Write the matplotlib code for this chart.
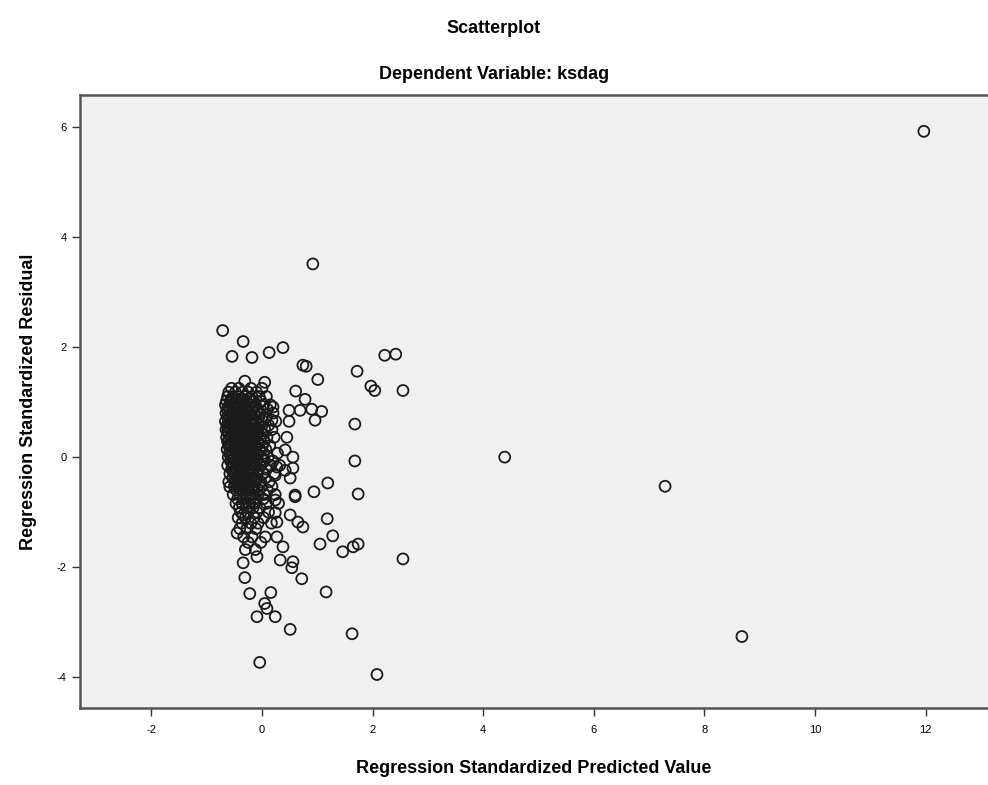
import numpy as np
import matplotlib
matplotlib.use("Agg")
import matplotlib.pyplot as plt

plt.rcParams['font.family'] = ['Liberation Sans', 'DejaVu Sans']
plt.rcParams['axes.unicode_minus'] = False

# puntos aislados (valor predicho, residuo)
outer_x = [11.97, 8.68, 7.29, 4.39, 0.92, -0.71, -0.34, -0.54, -0.18, 0.13, 0.38, 0.74, 0.80,
           1.01, -0.31, 0.05, 0.61, 0.78, 0.49, 0.69, 0.90, 1.08, 0.96, 0.49, 0.45, 2.22, 2.42,
           1.72, 1.97, 2.04, 2.55, 1.68, 1.68, 1.19, 0.94, 1.74, 1.18, 0.74, 1.28, 1.05, 1.46,
           1.65, 1.74, 2.55, 0.72, 1.16, 1.63, 2.08, 0.51, -0.04, -0.09, 0.24, 0.05, 0.09, 0.16,
           -0.22, -0.31, -0.34, -0.09, 0.33, 0.56, 0.54, 0.38, -0.45, -0.34, 0.27, 0.51, 0.60,
           -0.58]
outer_y = [5.92, -3.26, -0.53, 0.00, 3.51, 2.30, 2.10, 1.83, 1.81, 1.90, 1.99, 1.67, 1.65,
           1.41, 1.38, 1.36, 1.20, 1.05, 0.85, 0.85, 0.87, 0.83, 0.67, 0.65, 0.36, 1.85, 1.87,
           1.56, 1.29, 1.21, 1.21, 0.60, -0.07, -0.47, -0.63, -0.67, -1.12, -1.27, -1.43, -1.58,
           -1.72, -1.63, -1.58, -1.85, -2.21, -2.45, -3.21, -3.95, -3.13, -3.73, -2.90, -2.90,
           -2.66, -2.75, -2.46, -2.48, -2.19, -1.92, -1.81, -1.87, -1.90, -2.01, -1.63, -1.38,
           -1.05, -1.18, -1.05, -0.69, -0.54]

# borde derecho del grupo principal
fringe_x = [0.20, 0.18, 0.42, 0.56, 0.27, 0.42, 0.56, 0.24, 0.51, 0.60, 0.24, 0.24, 0.65, 0.27]
fringe_y = [0.91, 0.67, 0.13, 0.00, -0.18, -0.24, -0.20, -0.33, -0.38, -0.72, -0.78, -1.01,
            -1.18, -1.45]

# nucleo denso: residuo -> valores predichos en esa franja
core = {
    1.25: [-0.55, -0.42, -0.20, 0.00],
    1.18: [-0.60, -0.48, -0.35, -0.25, -0.10],
    1.10: [-0.62, -0.52, -0.44, -0.30, -0.18, -0.05, 0.08],
    1.02: [-0.64, -0.57, -0.47, -0.39, -0.28, -0.15, -0.02],
    0.95: [-0.66, -0.55, -0.50, -0.41, -0.33, -0.22, -0.12, 0.03, 0.15],
    0.87: [-0.63, -0.58, -0.49, -0.43, -0.36, -0.27, -0.19, -0.08, 0.10],
    0.80: [-0.65, -0.56, -0.51, -0.45, -0.38, -0.31, -0.24, -0.14, -0.03, 0.20],
    0.72: [-0.62, -0.59, -0.53, -0.46, -0.40, -0.34, -0.26, -0.17, -0.06, 0.07],
    0.65: [-0.66, -0.57, -0.50, -0.44, -0.37, -0.29, -0.21, -0.11, 0.02, 0.25],
    0.58: [-0.63, -0.55, -0.48, -0.42, -0.35, -0.28, -0.20, -0.13, -0.04, 0.12],
    0.50: [-0.65, -0.58, -0.52, -0.45, -0.39, -0.32, -0.23, -0.16, -0.07, 0.05, 0.18],
    0.43: [-0.61, -0.54, -0.47, -0.41, -0.34, -0.27, -0.19, -0.09, 0.00],
    0.36: [-0.64, -0.56, -0.50, -0.43, -0.37, -0.30, -0.22, -0.14, -0.02, 0.09, 0.22],
    0.28: [-0.62, -0.53, -0.46, -0.40, -0.33, -0.25, -0.17, -0.08, 0.04],
    0.21: [-0.60, -0.55, -0.48, -0.42, -0.35, -0.28, -0.20, -0.11, 0.01, 0.14],
    0.14: [-0.63, -0.51, -0.44, -0.38, -0.31, -0.23, -0.15, -0.05, 0.07],
    0.07: [-0.59, -0.53, -0.46, -0.40, -0.33, -0.26, -0.18, -0.09, 0.03, 0.28],
    0.00: [-0.61, -0.50, -0.43, -0.36, -0.29, -0.21, -0.12, -0.01, 0.11],
    -0.07: [-0.57, -0.48, -0.41, -0.34, -0.27, -0.19, -0.10, 0.05, 0.20],
    -0.15: [-0.62, -0.52, -0.45, -0.38, -0.30, -0.22, -0.13, -0.03, 0.16, 0.32],
    -0.22: [-0.55, -0.47, -0.40, -0.32, -0.24, -0.15, -0.06, 0.08],
    -0.30: [-0.58, -0.50, -0.42, -0.35, -0.26, -0.17, -0.08, 0.02, 0.22],
    -0.38: [-0.53, -0.44, -0.37, -0.28, -0.19, -0.10, 0.06],
    -0.45: [-0.60, -0.48, -0.39, -0.31, -0.21, -0.12, -0.02, 0.13],
    -0.53: [-0.50, -0.42, -0.33, -0.23, -0.14, 0.00, 0.18],
    -0.60: [-0.46, -0.36, -0.26, -0.16, -0.05, 0.10],
    -0.68: [-0.52, -0.40, -0.29, -0.18, -0.07, 0.04, 0.24],
    -0.76: [-0.44, -0.33, -0.21, -0.11, 0.02],
    -0.84: [-0.47, -0.36, -0.24, -0.13, 0.08, 0.30],
    -0.92: [-0.41, -0.28, -0.16, -0.04],
    -1.00: [-0.38, -0.25, -0.09, 0.12],
    -1.10: [-0.43, -0.30, -0.14, 0.03],
    -1.20: [-0.36, -0.20, -0.07, 0.17],
    -1.30: [-0.40, -0.27, -0.11],
    -1.45: [-0.33, -0.18, 0.06],
    -1.55: [-0.25, -0.02],
    -1.68: [-0.30, -0.12],
}

# zona mas cargada del nucleo
core_dense = {
    1.06: [-0.54, -0.36, -0.23],
    0.91: [-0.61, -0.46, -0.30, -0.16],
    0.76: [-0.60, -0.48, -0.35, -0.21],
    0.61: [-0.59, -0.46, -0.32, -0.17],
    0.47: [-0.62, -0.49, -0.37, -0.25, -0.12],
    0.32: [-0.59, -0.48, -0.35, -0.21],
    0.18: [-0.57, -0.46, -0.33, -0.18],
    0.03: [-0.56, -0.45, -0.31, -0.16],
    -0.11: [-0.53, -0.43, -0.29, -0.16],
    -0.26: [-0.52, -0.38, -0.21],
    -0.41: [-0.47, -0.33, -0.16],
    -0.57: [-0.40, -0.29, -0.19],
}

core_x = [x for y, xs in core.items() for x in xs] + [x for y, xs in core_dense.items() for x in xs]
core_y = [y for y, xs in core.items() for x in xs] + [y for y, xs in core_dense.items() for x in xs]

pred = np.array(outer_x + fringe_x + core_x)
resid = np.array(outer_y + fringe_y + core_y)

fig = plt.figure(figsize=(9.88, 7.85), dpi=100)
ax = fig.add_axes([0.081, 0.098, 0.919, 0.781])
ax.set_facecolor('#f0f0f0')

ax.scatter(pred, resid, s=62, facecolors='none', edgecolors='#1a1a1a', linewidths=1.3)

ax.set_xlim(-3.29, 13.13)
ax.set_ylim(-4.56, 6.58)
ax.set_xticks([-2, 0, 2, 4, 6, 8, 10, 12])
ax.set_yticks([-4, -2, 0, 2, 4, 6])
ax.tick_params(axis='both', labelsize=8, direction='out', length=6, width=1, color='#333333')
ax.tick_params(axis='x', pad=6)

for side in ['left', 'bottom', 'top']:
    ax.spines[side].set_color('#555555')
    ax.spines[side].set_linewidth(1.8)
ax.spines['right'].set_visible(False)

ax.set_xlabel('Regression Standardized Predicted Value', fontsize=13, fontweight='bold', labelpad=18)
ax.set_ylabel('Regression Standardized Residual', fontsize=13, fontweight='bold', labelpad=14)

fig.text(0.5, 0.964, 'Scatterplot', ha='center', va='center', fontsize=13, fontweight='bold')
fig.text(0.5, 0.905, 'Dependent Variable: ksdag', ha='center', va='center', fontsize=13, fontweight='bold')

fig.savefig('out.png', dpi=100)
